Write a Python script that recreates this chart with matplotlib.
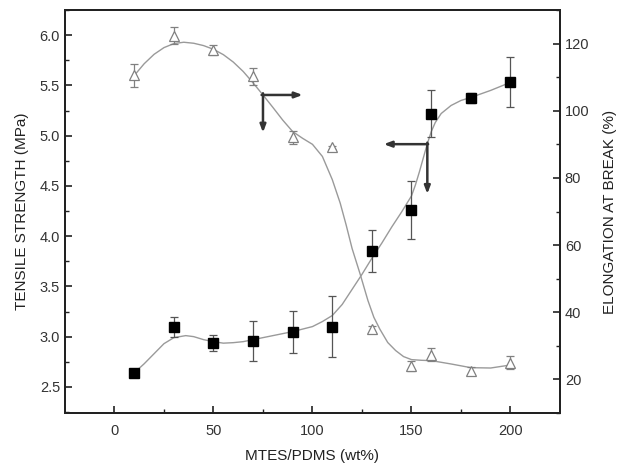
import numpy as np
import matplotlib
matplotlib.use("Agg")
import matplotlib.pyplot as plt

plt.rcParams['font.family'] = ['Liberation Sans', 'DejaVu Sans']

# measured points
mtes = [10, 30, 50, 70, 90, 110, 130, 150, 160, 180, 200]
tensile = [2.64, 3.10, 2.94, 2.96, 3.05, 3.10, 3.85, 4.26, 5.22, 5.37, 5.53]
tensile_err = [0.02, 0.10, 0.08, 0.20, 0.21, 0.30, 0.21, 0.29, 0.23, 0.05, 0.25]
elong = [110.5, 122.4, 118.2, 110.2, 92.1, 89.1, 34.9, 24.0, 27.4, 22.6, 25.0]
elong_err = [3.3, 2.5, 1.5, 2.5, 2.0, 0.5, 1.0, 1.5, 2.0, 1.0, 2.0]

# fitted curves
fit_t_x = [10, 15, 20, 25, 30, 36, 40, 45, 50, 55, 60, 65, 70, 80, 90, 100, 105, 110,
           115, 120, 125, 130, 135, 140, 145, 150, 152, 154, 156, 158, 160, 162, 165,
           170, 175, 180, 190, 200]
fit_t_y = [2.64, 2.73, 2.83, 2.93, 2.99, 3.01, 3.00, 2.97, 2.95, 2.935, 2.94, 2.95, 2.97, 3.01,
           3.05, 3.10, 3.15, 3.21, 3.32, 3.47, 3.62, 3.78, 3.93, 4.09, 4.24, 4.40, 4.51, 4.64,
           4.78, 4.92, 5.04, 5.13, 5.22, 5.30, 5.35, 5.38, 5.45, 5.53]
fit_e_x = [10, 15, 20, 25, 30, 35, 40, 45, 50, 55, 60, 65, 70, 75, 80, 85, 90, 95, 100, 105,
           110, 114, 117, 120, 124, 128, 131, 134, 138, 142, 146, 150, 155, 160, 170, 180, 190, 200]
fit_e_y = [110.5, 114.0, 116.8, 118.8, 120.0, 120.4, 120.1, 119.4, 118.3, 116.7, 114.5, 111.7,
           108.3, 104.7, 101.0, 97.2, 93.8, 91.8, 90.0, 86.4, 79.5, 72.5, 66.0, 59.0, 51.5, 43.5,
           38.5, 35.0, 31.0, 28.6, 26.8, 25.9, 25.7, 25.6, 24.6, 23.5, 23.4, 24.3]

fig = plt.figure(figsize=(6.17, 4.65), dpi=100)
ax = fig.add_axes([0.1053, 0.1118, 0.8023, 0.8667])
ax2 = ax.twinx()

grey = '#9a9a9a'
ax.plot(fit_t_x, fit_t_y, color=grey, lw=1.0, zorder=1)
ax.errorbar(mtes, tensile, yerr=tensile_err, fmt='s', ms=6.5, color='black',
            ecolor='#555555', elinewidth=0.9, capsize=3, capthick=0.9, zorder=3)
ax2.plot(fit_e_x, fit_e_y, color=grey, lw=1.0, zorder=1)
ax2.errorbar(mtes, elong, yerr=elong_err, fmt='^', ms=7.5, mfc='white', mec='#808080',
             mew=0.9, ecolor='#808080', elinewidth=0.9, capsize=3, capthick=0.9, zorder=3)

# L-shaped arrows pointing to the relevant axis
akw = dict(arrowstyle='-|>,head_length=0.45,head_width=0.17', color='#333333', lw=1.8,
           shrinkA=0, shrinkB=0)
ax2.annotate('', xy=(95, 104.7), xytext=(74.3, 104.7), arrowprops=akw)
ax2.annotate('', xy=(75, 93.5), xytext=(75, 105.2), arrowprops=akw)
ax.annotate('', xy=(136, 4.915), xytext=(158.4, 4.915), arrowprops=akw)
ax.annotate('', xy=(158, 4.42), xytext=(158, 4.93), arrowprops=akw)

ax.set_xlim(-25, 225)
ax.set_ylim(2.24, 6.24)
ax2.set_ylim(10, 130)
ax.set_xticks([0, 50, 100, 150, 200])
ax.set_xticks([25, 75, 125, 175], minor=True)
ax.set_yticks([2.5, 3.0, 3.5, 4.0, 4.5, 5.0, 5.5, 6.0])
ax.set_yticks(np.arange(2.25, 6.3, 0.5), minor=True)
ax2.set_yticks([20, 40, 60, 80, 100, 120])
ax2.set_yticks([10, 30, 50, 70, 90, 110, 130], minor=True)

for a in (ax, ax2):
    for s in a.spines.values():
        s.set_linewidth(1.4)
        s.set_color('#222222')
    a.tick_params(which='major', direction='in', length=5, width=1.2, labelsize=10.5,
                  labelcolor='#333333', color='#222222')
    a.tick_params(which='minor', direction='in', length=3, width=1.0, color='#222222')
ax.tick_params(axis='x', pad=8)

ax.set_xlabel('MTES/PDMS (wt%)', fontsize=11, color='#222222', labelpad=8)
ax.set_ylabel('TENSILE STRENGTH (MPa)', fontsize=11, color='#222222', labelpad=8)
ax2.set_ylabel('ELONGATION AT BREAK (%)', fontsize=11, color='#222222', labelpad=10)

fig.savefig('out.png', dpi=100)
